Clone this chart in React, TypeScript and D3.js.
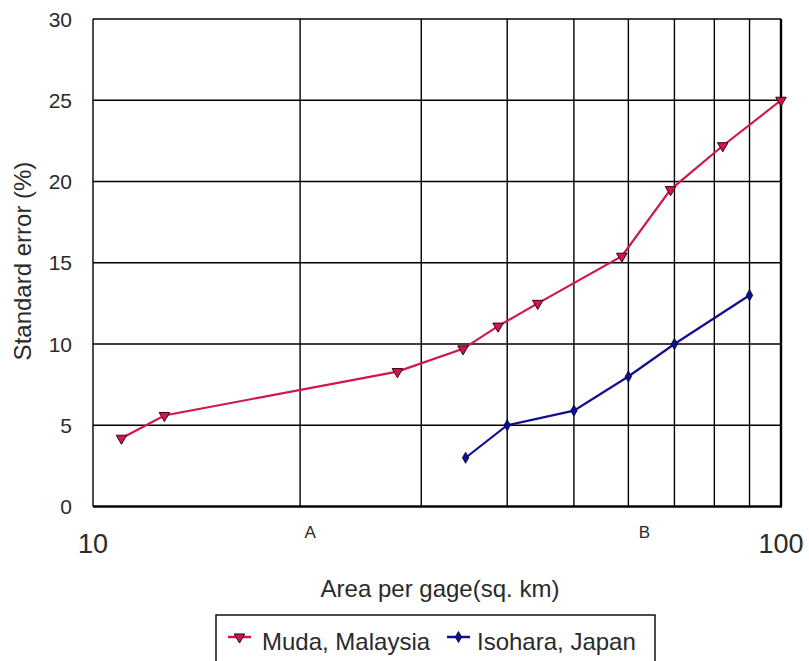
import React from "react";
import * as d3 from "d3";

const mudaArea = [11.0, 12.7, 27.7, 34.5, 38.8, 44.3, 58.7, 69.1, 82.3, 100];
const mudaError = [4.2, 5.6, 8.3, 9.7, 11.1, 12.5, 15.4, 19.5, 22.2, 25.0];
const isoArea = [34.8, 40, 50, 60, 70, 90];
const isoError = [3.0, 5.0, 5.9, 8.0, 10.0, 13.0];
const yTicks = [0, 5, 10, 15, 20, 25, 30];
const xGrid = [20, 30, 40, 50, 60, 70, 80, 90];
const xTickLabels = [
  { v: 10, t: "10" },
  { v: 100, t: "100" },
];
const xNotes = [
  { v: 20, t: "A" },
  { v: 60, t: "B" },
];

const W = 809;
const H = 661;
const L = 93, R = 781, T = 19, B = 506.5;
const FONT = "'Liberation Sans', Arial, sans-serif";
const RED = "#D01848";
const BLUE = "#10108A";
const TXT = "#2a2a2a";

export default function App() {
  const x = d3.scaleLog().domain([10, 100]).range([L, R]);
  const y = d3.scaleLinear().domain([0, 30]).range([B, T]);
  const line = d3.line<[number, number]>().x((d) => x(d[0])).y((d) => y(d[1]));
  const muda: [number, number][] = mudaArea.map((a, i) => [a, mudaError[i]]);
  const iso: [number, number][] = isoArea.map((a, i) => [a, isoError[i]]);
  const tri = d3.symbol(d3.symbolTriangle, 48)()!;
  const dia = d3.symbol(d3.symbolDiamond, 36)()!;

  return (
    <svg width={W} height={H} style={{ position: "absolute", left: 0, top: 0 }}>
      <rect x={0} y={0} width={W} height={H} fill="#fff" />
      {/* horizontal grid */}
      {yTicks.slice(1, -1).map((t) => (
        <line key={"h" + t} x1={L} x2={R} y1={y(t)} y2={y(t)} stroke="#000" strokeWidth={1.4} />
      ))}
      {xGrid.map((v) => (
        <line key={"v" + v} x1={x(v)} x2={x(v)} y1={T} y2={B} stroke="#000" strokeWidth={1.4} />
      ))}
      {/* border */}
      <line x1={L} x2={R} y1={T} y2={T} stroke="#000" strokeWidth={1.4} />
      <line x1={L} x2={L} y1={T} y2={B} stroke="#000" strokeWidth={1.4} />
      <line x1={L} x2={R + 1} y1={B} y2={B} stroke="#000" strokeWidth={2.4} />
      <line x1={R} x2={R} y1={T} y2={B} stroke="#000" strokeWidth={2.4} />

      {/* y tick labels */}
      {yTicks.map((t) => (
        <text key={"yt" + t} x={72} y={y(t) + 7.5} textAnchor="end" fontSize={21} fontFamily={FONT} fill={TXT}>
          {t}
        </text>
      ))}
      {xTickLabels.map((d) => (
        <text key={"xt" + d.t} x={x(d.v)} y={553} textAnchor="middle" fontSize={27} fontFamily={FONT} fill={TXT}>
          {d.t}
        </text>
      ))}
      {xNotes.map((d) => (
        <text key={"xn" + d.t} x={d.v === 20 ? x(d.v) + 10 : x(d.v) + 16} y={538} textAnchor="middle" fontSize={17} fontFamily={FONT} fill={TXT}>
          {d.t}
        </text>
      ))}
      <text x={440} y={597} textAnchor="middle" fontSize={24} fontFamily={FONT} fill={TXT}>
        Area per gage(sq. km)
      </text>
      <text transform="translate(31,261) rotate(-90)" textAnchor="middle" fontSize={24} fontFamily={FONT} fill={TXT}>
        Standard error (%)
      </text>

      {/* series */}
      <path d={line(muda)!} fill="none" stroke={RED} strokeWidth={2.2} />
      <path d={line(iso)!} fill="none" stroke={BLUE} strokeWidth={2.2} />
      {muda.map((d, i) => (
        <path key={"m" + i} d={tri} transform={`translate(${x(d[0])},${y(d[1])}) rotate(180)`} fill={RED} stroke="#3a0010" strokeWidth={1} />
      ))}
      {iso.map((d, i) => (
        <path key={"i" + i} d={dia} transform={`translate(${x(d[0])},${y(d[1])})`} fill={BLUE} stroke="#000040" strokeWidth={0.8} />
      ))}

      {/* legend */}
      <rect x={216} y={615} width={439} height={60} fill="#fff" stroke="#000" strokeWidth={1.4} />
      <line x1={228} x2={251} y1={637} y2={637} stroke={RED} strokeWidth={2.5} />
      <path d={tri} transform="translate(239.5,637) rotate(180)" fill={RED} stroke="#3a0010" strokeWidth={1} />
      <text x={262} y={650} fontSize={24} fontFamily={FONT} fill={TXT}>Muda, Malaysia</text>
      <line x1={447} x2={470} y1={637} y2={637} stroke={BLUE} strokeWidth={2.5} />
      <path d={dia} transform="translate(458.5,637)" fill={BLUE} stroke="#000040" strokeWidth={0.8} />
      <text x={477} y={650} fontSize={24} fontFamily={FONT} fill={TXT}>Isohara, Japan</text>
    </svg>
  );
}
